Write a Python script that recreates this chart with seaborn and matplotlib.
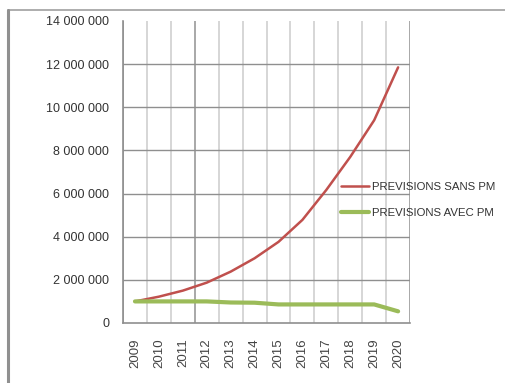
import matplotlib
matplotlib.use("Agg")
import matplotlib.pyplot as plt
import matplotlib.lines as mlines
import seaborn as sns
import pandas as pd

years = ["2009", "2010", "2011", "2012", "2013", "2014",
         "2015", "2016", "2017", "2018", "2019", "2020"]
sans_pm = [1000000, 1220000, 1500000, 1870000, 2380000, 3000000,
           3760000, 4780000, 6170000, 7700000, 9400000, 11850000]
avec_pm = [1000000, 1000000, 1000000, 1000000, 950000, 940000,
           860000, 860000, 860000, 860000, 860000, 540000]
series_names = ["PREVISIONS SANS PM", "PREVISIONS AVEC PM"]
series_colors = ["#C0504D", "#9BBB59"]
y_ticks = [0, 2000000, 4000000, 6000000, 8000000, 10000000, 12000000, 14000000]

sns.set_theme(style="white")
plt.rcParams["font.family"] = ["Liberation Sans", "DejaVu Sans"]

df = pd.DataFrame({
    "year": years * 2,
    "pos": list(range(len(years))) * 2,
    "value": sans_pm + avec_pm,
    "series": [series_names[0]] * len(years) + [series_names[1]] * len(years),
})

fig = plt.figure(figsize=(5.05, 3.83), dpi=100)
ax = fig.add_axes([0.2436, 0.1567, 0.5684, 0.7885])

# category boundaries as vertical grid lines
for b in range(len(years) + 1):
    xb = b - 0.5
    col = "#9a9a9a" if b in (0, 3, len(years)) else "#cfcfcf"
    ax.axvline(xb, color=col, lw=1.2, zorder=0)
for yv in y_ticks[1:-1]:
    ax.axhline(yv, color="#8f8f8f", lw=1.0, zorder=0)

sns.lineplot(data=df, x="pos", y="value", hue="series", hue_order=series_names,
             palette=series_colors, ax=ax, legend=False, estimator=None)
lines = ax.get_lines()[-2:]
lines[0].set_linewidth(1.8)
lines[1].set_linewidth(3.0)

ax.set_xlim(-0.5, len(years) - 0.5)
ax.set_ylim(0, 14000000)
ax.set_xticks(range(len(years)))
ax.set_xticklabels(years, rotation=90, fontsize=9.5, color="#444444")
ax.set_yticks(y_ticks)
ax.set_yticklabels([f"{v:,}".replace(",", " ") for v in y_ticks],
                   fontsize=9, color="#333333")
ax.tick_params(axis="x", length=0, pad=11)
ax.tick_params(axis="y", length=0, pad=10)
ax.set_xlabel("")
ax.set_ylabel("")
for side in ("top", "right"):
    ax.spines[side].set_visible(False)
for side in ("left", "bottom"):
    ax.spines[side].set_color("#8f8f8f")
    ax.spines[side].set_linewidth(1.2)

handles = [mlines.Line2D([], [], color=series_colors[0], lw=1.8),
           mlines.Line2D([], [], color=series_colors[1], lw=3.0)]
fig.legend(handles, series_names, loc="upper left",
           bbox_to_anchor=(0.655, 0.552), frameon=False,
           fontsize=8.2, handlelength=2.5, handletextpad=0.2,
           labelspacing=1.45, labelcolor="#333333")

# page frame: top rule and left rule
fig.add_artist(mlines.Line2D([0.015, 1.0], [0.973, 0.973], color="#a0a0a0", lw=1.2))
fig.add_artist(mlines.Line2D([0.015, 0.015], [0.0, 0.973], color="#909090", lw=2.2))

fig.savefig("out.png", dpi=100)
